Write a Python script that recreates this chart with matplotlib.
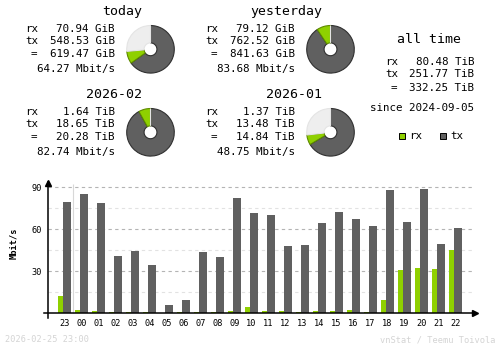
import matplotlib
matplotlib.use("Agg")
import matplotlib.pyplot as plt
from matplotlib.patches import Rectangle

# hourly traffic, last 24 hours (Mbit/s)
hours = ["23", "00", "01", "02", "03", "04", "05", "06", "07", "08", "09", "10",
         "11", "12", "13", "14", "15", "16", "17", "18", "19", "20", "21", "22"]
rx_mbit = [12.4, 2.4, 1.7, 1.0, 1.0, 1.0, 0.0, 1.0, 1.0, 1.0, 1.7, 4.5,
           1.7, 1.7, 1.0, 1.7, 1.7, 2.4, 1.0, 9.5, 31.0, 32.4, 31.7, 45.2]
tx_mbit = [79.5, 85.2, 78.8, 41.0, 44.5, 34.5, 6.0, 9.5, 43.8, 40.2, 82.4, 71.7,
           70.2, 48.1, 48.8, 64.5, 72.4, 67.4, 62.4, 88.1, 65.2, 88.8, 49.5, 61.0]

# summary blocks: title, rx, tx, total, average rate, unit
block_titles = ["today", "yesterday", "2026-02", "2026-01"]
block_rx = [70.94, 79.12, 1.64, 1.37]
block_tx = [548.53, 762.52, 18.65, 13.48]
block_total = [619.47, 841.63, 20.28, 14.84]
block_rate = [64.27, 83.68, 82.74, 48.75]
block_unit = ["GiB", "GiB", "TiB", "TiB"]

alltime_rx = 80.48
alltime_tx = 251.77
alltime_total = 332.25
since_date = "2024-09-05"

W, H = 500, 348
RX_COL = "#8fd000"
TX_COL = "#606060"
MONO = "DejaVu Sans Mono"

fig = plt.figure(figsize=(W / 100, H / 100), dpi=100)
fig.patch.set_facecolor("white")


def fx(x):
    return x / W


def fy(y):
    return 1 - y / H


def txt(x, y, s, size=7.8, ha="left", color="black", **kw):
    fig.text(fx(x), fy(y), s, fontsize=size, ha=ha, va="center",
             family=MONO, color=color, **kw)


# --- summary blocks (2 x 2) ---
offsets = [(0, 0), (180, 0), (0, 83), (180, 83)]
pie_max = [max(block_total[0], block_total[1]), max(block_total[0], block_total[1]),
           max(block_total[2], block_total[3]), max(block_total[2], block_total[3])]
for i, (dx, dy) in enumerate(offsets):
    u = block_unit[i]
    txt(142 + dx, 12 + dy, block_titles[i], size=9.5, ha="right")
    txt(25 + dx, 29.3 + dy, "rx")
    txt(25 + dx, 41.3 + dy, "tx")
    txt(33.5 + dx, 54.3 + dy, "=", ha="center")
    txt(115 + dx, 29.3 + dy, f"{block_rx[i]:.2f} {u}", ha="right")
    txt(115 + dx, 41.3 + dy, f"{block_tx[i]:.2f} {u}", ha="right")
    txt(115 + dx, 54.3 + dy, f"{block_total[i]:.2f} {u}", ha="right")
    txt(115 + dx, 69 + dy, f"{block_rate[i]:.2f} Mbit/s", ha="right")

    # donut: tx clockwise from the top, then rx, rest light grey
    cx, cy, r = 150.5 + dx, 49.3 + dy, 24.5
    pax = fig.add_axes([fx(cx - r), fy(cy + r), 2 * r / W, 2 * r / H])
    rest = max(pie_max[i] - block_total[i], 0)
    wedges, _ = pax.pie([block_tx[i], block_rx[i], rest],
                        colors=[TX_COL, RX_COL, "#eeeeee"],
                        startangle=90, counterclock=False,
                        wedgeprops=dict(width=0.73, linewidth=0.8))
    for w, ec in zip(wedges, ["#303030", "#5e8a00", "#e4e4e4"]):
        w.set_edgecolor(ec)
    pax.set_xlim(-1.03, 1.03)
    pax.set_ylim(-1.03, 1.03)
    pax.set_aspect("equal")
    pax.axis("off")

# --- all time block ---
txt(429, 39.3, "all time", size=9.5, ha="center")
txt(385, 62, "rx")
txt(385, 74, "tx")
txt(393.5, 87.7, "=", ha="center")
txt(474, 62, f"{alltime_rx:.2f} TiB", ha="right")
txt(474, 74, f"{alltime_tx:.2f} TiB", ha="right")
txt(474, 87.7, f"{alltime_total:.2f} TiB", ha="right")
txt(474, 107.7, f"since {since_date}", ha="right")

# legend squares
for x0, col, lab in [(398.7, RX_COL, "rx"), (440, TX_COL, "tx")]:
    fig.patches.append(Rectangle((fx(x0), fy(139)), 6 / W, 6 / H,
                                 transform=fig.transFigure, facecolor=col,
                                 edgecolor="black", linewidth=0.7))
    txt(x0 + 10.5, 136, lab)

# --- hourly bar chart ---
px_per_slot = 17.0
x_left, x_right = -1.25, 24.3
y_low, y_top = -3.36, 94.5
ax = fig.add_axes([fx(64.3 + x_left * px_per_slot), fy(318),
                   (x_right - x_left) * px_per_slot / W, 137 / H])
ax.set_xlim(x_left, x_right)
ax.set_ylim(y_low, y_top)
for s in ax.spines.values():
    s.set_visible(False)

xs = list(range(len(hours)))
grid_end = 24.02
y_axis_x = (48 - 64.3) / px_per_slot
for v in [15, 45, 75]:
    ax.hlines(v, y_axis_x, grid_end, color="#e2e2e2", lw=0.8,
              linestyle=(0, (3, 3)), zorder=1)
for v in [30, 60, 90]:
    ax.hlines(v, y_axis_x, grid_end, color="#b4b4b4", lw=0.8,
              linestyle=(0, (3, 3)), zorder=1)

# day boundary marker
ax.vlines(0.53, 0, 92.5, color="#d8d8d8", lw=0.8, zorder=1)

ax.bar([x - 0.353 for x in xs], rx_mbit, width=5 / px_per_slot, align="edge",
       color=RX_COL, linewidth=0, zorder=2)
ax.bar([x - 0.059 for x in xs], tx_mbit, width=7.7 / px_per_slot, align="edge",
       color=TX_COL, linewidth=0, zorder=2)

# axes with arrow heads
ax.plot([y_axis_x, y_axis_x], [y_low, 93.5], color="black", lw=1.1, zorder=3,
        clip_on=False)
ax.plot(y_axis_x, 93.3, marker="^", ms=4.5, color="black", zorder=3, clip_on=False)
ax.plot([(44 - 64.3) / px_per_slot, 24.15], [0, 0], color="black", lw=1.1,
        zorder=3, clip_on=False)
ax.plot(24.15, 0, marker=">", ms=4.5, color="black", zorder=3, clip_on=False)

ax.set_xticks(xs)
ax.set_xticklabels(hours, family=MONO, fontsize=6.2)
ax.set_yticks([30, 60, 90])
ax.set_yticklabels(["30", "60", "90"], family=MONO, fontsize=6.2)
ax.tick_params(axis="x", length=0, pad=0.5)
ax.tick_params(axis="y", length=0, pad=0.8)
ax.patch.set_alpha(0)

txt(14, 243, "Mbit/s", size=6.2, ha="center", rotation=90, fontweight="bold")

# footer
txt(5, 340, "2026-02-25 23:00", size=6.2, color="#d4d4d4")
txt(495, 340, "vnStat / Teemu Toivola", size=6.2, ha="right", color="#d4d4d4")

fig.savefig("out.png", dpi=100, facecolor="white")
